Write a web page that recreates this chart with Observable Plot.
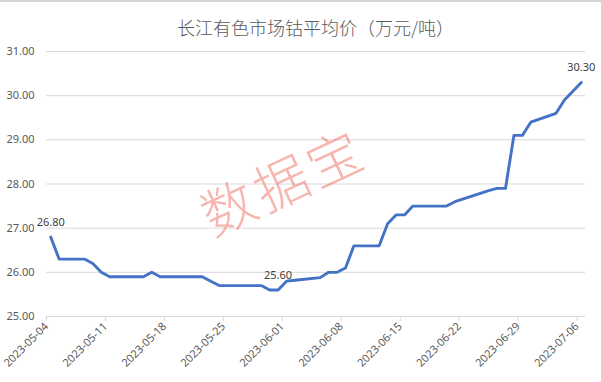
<!DOCTYPE html>
<html>
<head>
<meta charset="utf-8">
<script src="https://cdn.jsdelivr.net/npm/d3@7"></script>
<script src="https://cdn.jsdelivr.net/npm/@observablehq/plot@0.6"></script>
<style>
  body { margin: 0; background: #ffffff; }
  #wrap { position: relative; width: 601px; height: 382px; overflow: hidden; background: #fff; }
  #topline { position: absolute; left: 0; top: 0; width: 601px; height: 2px; background: #d6d6d6; }
  #title { position: absolute; left: 0; width: 601px; top: 14px; text-align: center; padding-left: 30px; box-sizing: border-box;
           font-family: "Noto Sans CJK SC", "Noto Sans", sans-serif; font-size: 18px; color: #595959; line-height: 26px; font-weight: 300; }
  #wm { position: absolute; left: 195px; top: 150px; font-family: "Noto Sans CJK SC", sans-serif; font-size: 54px; font-weight: 300;
        color: rgba(240, 120, 110, 0.55); transform: rotate(-25deg); transform-origin: center; letter-spacing: 4px; line-height: 60px; }
  #chart { position: absolute; left: 0; top: 0; }
</style>
</head>
<body>
<div id="wrap">
  <div id="chart"></div>
  <div id="topline"></div>
  <div id="title">长江有色市场钴平均价（万元/吨）</div>
  <div id="wm">数据宝</div>
</div>
<script>
const dates = [
  "2023-05-04","2023-05-05","2023-05-06","2023-05-08","2023-05-09","2023-05-10","2023-05-11","2023-05-12",
  "2023-05-15","2023-05-16","2023-05-17","2023-05-18","2023-05-19","2023-05-22","2023-05-23","2023-05-24",
  "2023-05-25","2023-05-26","2023-05-29","2023-05-30","2023-05-31","2023-06-01","2023-06-02","2023-06-05",
  "2023-06-06","2023-06-07","2023-06-08","2023-06-09","2023-06-12","2023-06-13","2023-06-14","2023-06-15",
  "2023-06-16","2023-06-19","2023-06-20","2023-06-21","2023-06-25","2023-06-26","2023-06-27","2023-06-28",
  "2023-06-29","2023-06-30","2023-07-03","2023-07-04","2023-07-05","2023-07-06"
];
const values = [
  26.80, 26.30, 26.30, 26.30, 26.20, 26.00, 25.90, 25.90,
  25.90, 26.00, 25.90, 25.90, 25.90, 25.90, 25.80, 25.70,
  25.70, 25.70, 25.70, 25.60, 25.60, 25.80, 25.82, 25.88,
  26.00, 26.00, 26.10, 26.60, 26.60, 27.10, 27.30, 27.30,
  27.50, 27.50, 27.50, 27.60, 27.85, 27.90, 27.90, 29.10,
  29.10, 29.40, 29.60, 29.90, 30.10, 30.30
];
const xTickLabels = ["2023-05-04","2023-05-11","2023-05-18","2023-05-25","2023-06-01","2023-06-08","2023-06-15","2023-06-22","2023-06-29","2023-07-06"];
const yTicks = [25, 26, 27, 28, 29, 30, 31];
const labelDates = ["2023-05-04", "2023-05-31", "2023-07-06"];

const parse = d3.utcParse("%Y-%m-%d");
const fmt = d3.utcFormat("%Y-%m-%d");
const mid = d => d3.utcHour.offset(parse(d), 12);
const data = dates.map((d, i) => ({date: mid(d), value: values[i], key: d}));
const labels = data.filter(d => labelDates.includes(d.key));

const chart = Plot.plot({
  width: 601,
  height: 382,
  marginTop: 51,
  marginBottom: 66,
  marginLeft: 46,
  marginRight: 16,
  style: {fontFamily: "'Noto Sans', 'Noto Sans CJK SC', sans-serif", fontSize: "11px", color: "#595959", background: "transparent"},
  x: {type: "utc", domain: [parse("2023-05-04"), parse("2023-07-07")]},
  y: {domain: [25, 31]},
  marks: [
    Plot.gridY(yTicks, {stroke: "#d9d9d9", strokeOpacity: 1}),
    Plot.axisY(yTicks, {tickSize: 0, tickPadding: 12, tickFormat: d => d.toFixed(2), label: null, fill: "#595959"}),
    Plot.ruleY([25], {stroke: "#d9d9d9"}),
    Plot.axisX(xTickLabels.map(parse), {tickSize: 5, tickPadding: 3, tickRotate: -45, tickFormat: fmt, label: null, stroke: "#d9d9d9", fill: "#595959"}),
    Plot.line(data, {x: "date", y: "value", stroke: "#4472c4", strokeWidth: 2.9, strokeLinejoin: "round"}),
    Plot.text(labels, {x: "date", y: "value", text: d => d.value.toFixed(2), dy: -15, fill: "#404040", fontSize: 11})
  ]
});
document.getElementById("chart").appendChild(chart);
</script>
</body>
</html>
